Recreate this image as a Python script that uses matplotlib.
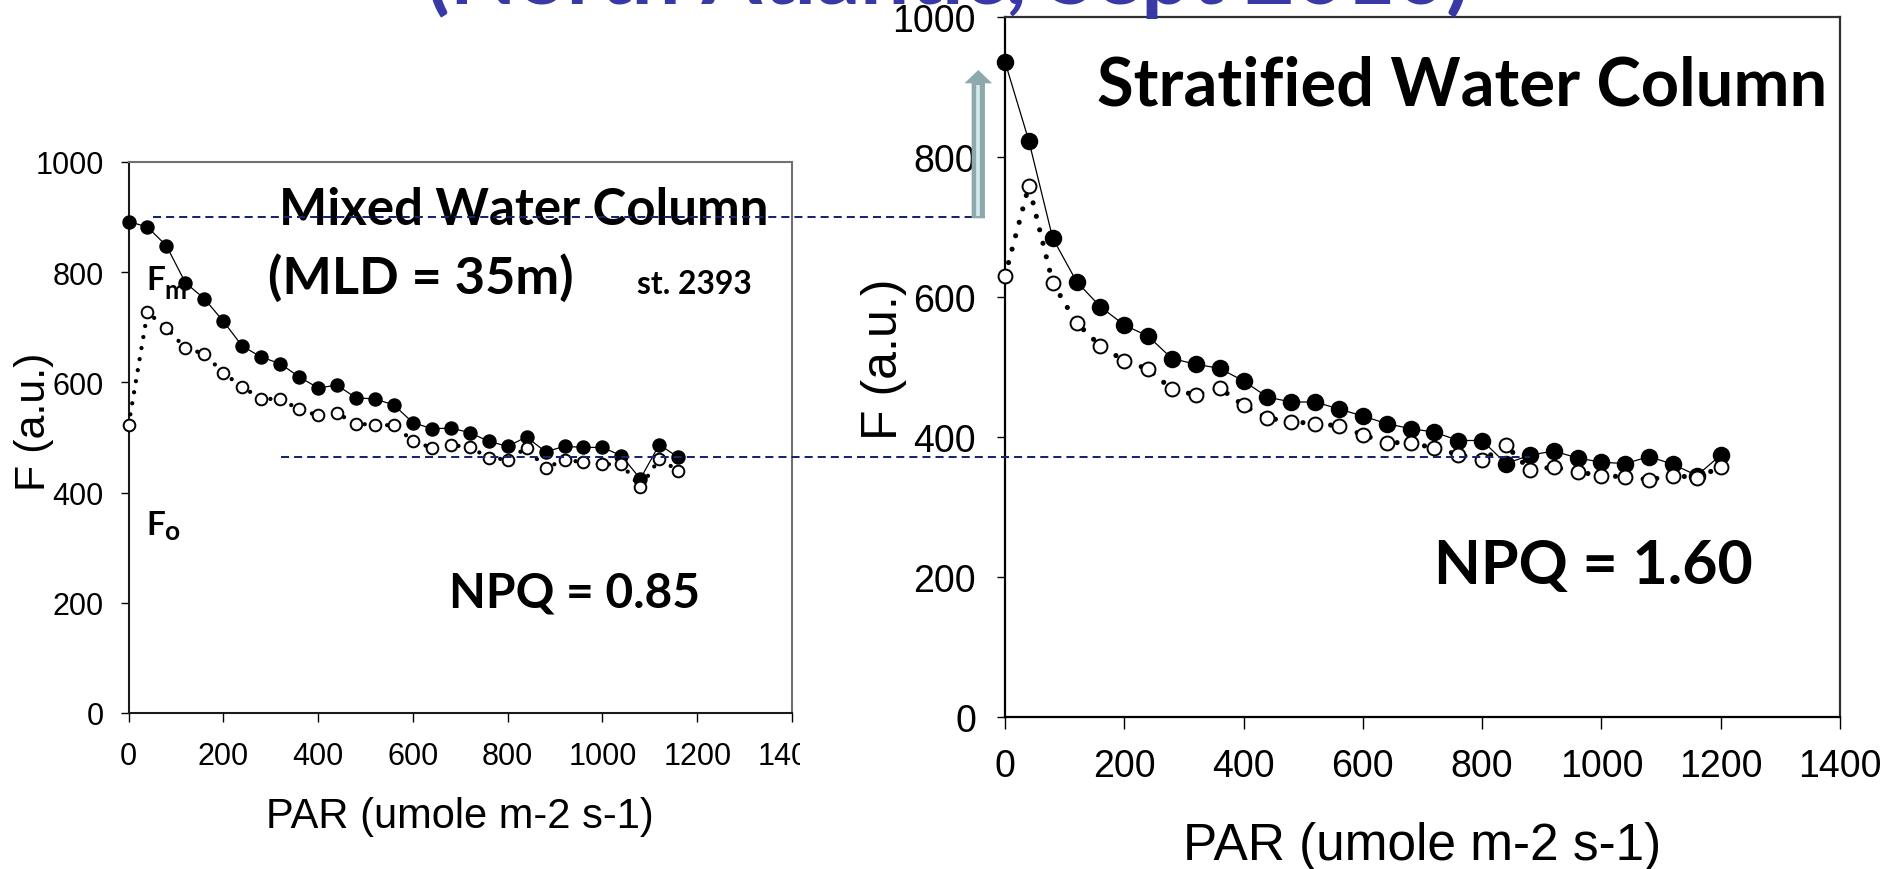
import matplotlib
matplotlib.use("Agg")
import matplotlib.pyplot as plt
from matplotlib.patches import FancyArrow
from matplotlib.lines import Line2D
from matplotlib.transforms import Bbox, IdentityTransform, blended_transform_factory

W, H, DPI = 1885, 870, 100

plt.rcParams['font.family'] = ['Liberation Sans', 'DejaVu Sans']

# ---- Mixed water column (station 2393) ----
par_mixed = [0, 40, 80, 120, 160, 200, 240, 280, 320, 360, 400, 440, 480, 520, 560,
             600, 640, 680, 720, 760, 800, 840, 880, 920, 960, 1000, 1040, 1080, 1120, 1160]
fm_mixed = [892, 882, 848, 781, 752, 711, 666, 646, 634, 610, 590, 595, 572, 570, 559,
            527, 516, 517, 509, 493, 484, 501, 474, 484, 482, 482, 467, 425, 487, 464]
fo_mixed = [522, 727, 699, 662, 652, 617, 592, 570, 570, 551, 540, 544, 525, 523, 522,
            494, 481, 486, 483, 463, 460, 481, 444, 460, 455, 451, 452, 410, 461, 440]

# ---- Stratified water column ----
par_strat = [0, 40, 80, 120, 160, 200, 240, 280, 320, 360, 400, 440, 480, 520, 560, 600,
             640, 680, 720, 760, 800, 840, 880, 920, 960, 1000, 1040, 1080, 1120, 1160, 1200]
fm_strat = [936, 823, 684, 622, 586, 560, 544, 512, 504, 498, 480, 457, 450, 450, 440, 430,
            419, 412, 407, 395, 395, 362, 374, 380, 370, 364, 362, 372, 361, 345, 374]
fo_strat = [630, 759, 620, 563, 530, 509, 497, 468, 460, 470, 445, 427, 422, 419, 416, 403,
            392, 392, 384, 375, 367, 388, 353, 357, 350, 345, 343, 339, 345, 342, 357]

x_ticks = [0, 200, 400, 600, 800, 1000, 1200, 1400]
y_ticks = [0, 200, 400, 600, 800, 1000]

# reference levels (in F units of the mixed-column panel)
fm_level = 900
fo_level = 465

TITLE = "(North Atlantic, Sept 2010)"
BOLD = ['Lato', 'DejaVu Sans']

fig = plt.figure(figsize=(W / DPI, H / DPI), dpi=DPI)
fig.patch.set_facecolor('white')


def px_axes(left, top, right, bottom):
    return fig.add_axes([left / W, 1 - bottom / H, (right - left) / W, (bottom - top) / H])


def style_axes(ax, tick_size, ylen, xlen, ypad, xpad, spine_main, spine_side, lw):
    ax.set_xlim(0, 1400)
    ax.set_ylim(0, 1000)
    ax.set_xticks(x_ticks)
    ax.set_yticks(y_ticks)
    ax.set_xticklabels([str(v) for v in x_ticks])
    ax.set_yticklabels([str(v) for v in y_ticks])
    ax.tick_params(axis='y', direction='out', length=ylen, width=1.0, pad=ypad,
                   labelsize=tick_size, colors='black')
    ax.tick_params(axis='x', direction='out', length=xlen, width=1.0, pad=xpad,
                   labelsize=tick_size, colors='black')
    for side in ('left', 'bottom'):
        ax.spines[side].set_color(spine_main)
        ax.spines[side].set_linewidth(lw)
    for side in ('top', 'right'):
        ax.spines[side].set_color(spine_side)
        ax.spines[side].set_linewidth(lw)
    ax.set_facecolor('white')


def draw_series(ax, par, fm, fo, ms_fill, ms_open, dot_lw, dot_gap):
    ax.plot(par, fm, color='black', lw=0.9, marker='o', ms=ms_fill,
            mfc='black', mec='black', zorder=3, clip_on=False)
    ax.plot(par, fo, color='black', lw=dot_lw, linestyle=(0, (0.001, dot_gap)),
            dash_capstyle='round', zorder=4, clip_on=False)
    ax.plot(par, fo, linestyle='none', marker='o', ms=ms_open, mfc='white',
            mec='black', mew=1.4, zorder=5, clip_on=False)


ax1 = px_axes(128.5, 163, 792, 714)
ax2 = px_axes(1005, 18, 1840, 718)

style_axes(ax1, 22, 5.8, 6.5, 12, 14, '#1a1a1a', '#707070', 1.5)
style_axes(ax2, 27, 5.8, 8.6, 15, 14, 'black', '#303030', 1.6)

draw_series(ax1, par_mixed, fm_mixed, fo_mixed, 9.4, 8.4, 3.1, 2.6)
draw_series(ax2, par_strat, fm_strat, fo_strat, 11.6, 10.0, 3.7, 2.7)

# axis titles
ax1.set_xlabel("PAR (umole m-2 s-1)", fontsize=30, va='baseline')
ax1.set_ylabel("F (a.u.)", fontsize=31, va='center')
ax1.xaxis.set_label_coords(0.5, (714 - 828) / 551)
ax1.yaxis.set_label_coords((34 - 128.5) / 663.5, 0.53)

ax2.set_xlabel("PAR (umole m-2 s-1)", fontsize=37, va='baseline')
ax2.set_ylabel("F (a.u.)", fontsize=36, va='center')
ax2.xaxis.set_label_coords(0.5, (718 - 860) / 700)
ax2.yaxis.set_label_coords((884 - 1005) / 835, 0.513)

# the left panel's last x label is cut by the panel edge
last = ax1.get_xticklabels()[-1]
last.set_clip_on(True)
last.set_clip_box(Bbox.from_extents(0, 0, 800, H))

renderer = fig.canvas.get_renderer()


def put_text(s, x, y, size, width=None, family=BOLD, weight='bold', color='black',
             host=None, zorder=3):
    if host is None:
        t = fig.text(x / W, 1 - y / H, s, fontsize=size, family=family, weight=weight,
                     color=color, ha='left', va='baseline', zorder=zorder)
    else:
        t = host.text(x / W, 1 - y / H, s, fontsize=size, family=family, weight=weight,
                      color=color, ha='left', va='baseline', zorder=zorder,
                      transform=fig.transFigure)
    if width is not None:
        for _ in range(3):
            bb = t.get_window_extent(renderer)
            t.set_fontsize(t.get_fontsize() * width / bb.width)
    return t


put_text("Mixed Water Column", 279, 225, 38, width=490)
put_text("(MLD = 35m)", 268, 294, 38, width=305)
put_text("st. 2393", 637, 294, 24, width=115)
put_text("NPQ = 0.85", 449, 608, 38, width=251)
put_text("Stratified Water Column", 1097, 105, 50, width=730)
put_text("NPQ = 1.60", 1434, 584, 48, width=319)

# Fm / Fo markers of the mixed column panel, drawn beneath the data
put_text("F", 146, 290, 24, host=ax1, zorder=1)
put_text("m", 164, 299, 19, host=ax1, zorder=1)
put_text("F", 146, 535, 24, host=ax1, zorder=1)
put_text("o", 164, 540, 19, host=ax1, zorder=1)

# header line running off the top edge
put_text(TITLE, 426, 4, 52, width=1044, color='#3838a6')

# dashed reference levels spanning both panels
trans = blended_transform_factory(fig.transFigure, ax1.transData)
for x0, x1, lev in ((153, 985, fm_level), (281, 1530, fo_level)):
    fig.add_artist(Line2D([x0 / W, x1 / W], [lev, lev], transform=trans,
                          color='#10296b', lw=1.45, dashes=(4, 2.5), zorder=6))

# upward arrow next to the stratified panel
cx = 978.3
fig.add_artist(FancyArrow(cx, H - 219.3, 0, 219.3 - 71, width=13.3, head_width=27.7,
                          head_length=13.3, length_includes_head=True,
                          transform=IdentityTransform(), facecolor='#8ea9ac',
                          edgecolor='none', zorder=7))
fig.add_artist(Line2D([cx, cx], [H - 217, H - 86], transform=IdentityTransform(),
                      color='#d3ebef', lw=2.6, solid_capstyle='butt', zorder=8))

fig.savefig("out.png", dpi=DPI, facecolor='white')
